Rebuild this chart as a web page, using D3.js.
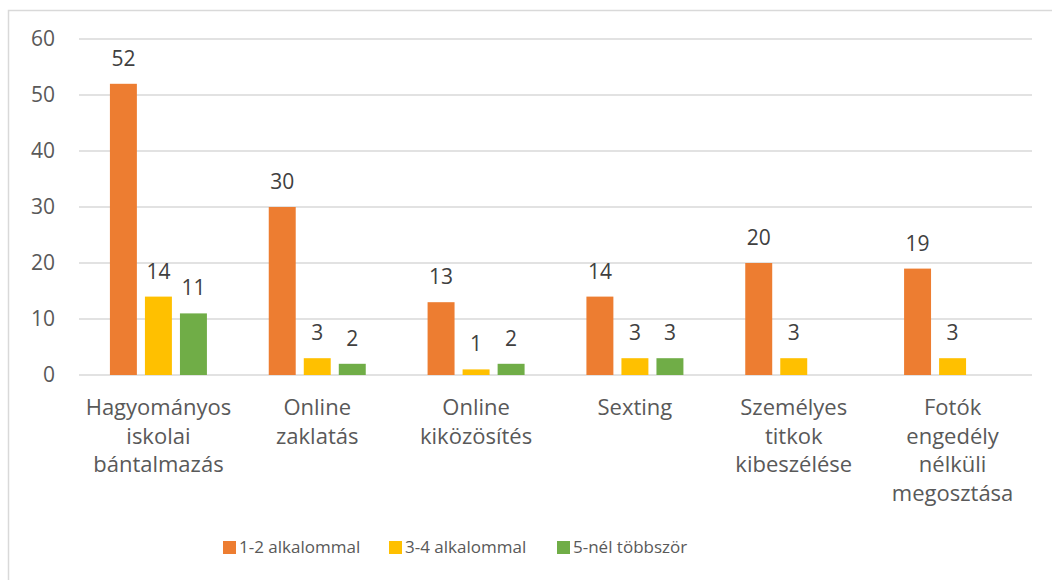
<!DOCTYPE html>
<html>
<head>
<meta charset="utf-8">
<script src="https://cdn.jsdelivr.net/npm/d3@7"></script>
<style>
  body { margin: 0; background: #fff; }
  svg { overflow: visible; display: block; }
  text { font-family: "Open Sans", "Noto Sans", sans-serif; }
</style>
</head>
<body>
<div id="chart"></div>
<script>
const categories = [
  ["Hagyományos", "iskolai", "bántalmazás"],
  ["Online", "zaklatás"],
  ["Online", "kiközösítés"],
  ["Sexting"],
  ["Személyes", "titkok", "kibeszélése"],
  ["Fotók", "engedély", "nélküli", "megosztása"]
];
const seriesNames = ["1-2 alkalommal", "3-4 alkalommal", "5-nél többször"];
const once12 = [52, 30, 13, 14, 20, 19];
const times34 = [14, 3, 1, 3, 3, 3];
const over5 = [11, 2, 2, 3, null, null];
const yTicks = [0, 10, 20, 30, 40, 50, 60];
const colors = ["#ed7d31", "#ffc000", "#70ad47"];

const width = 1052, height = 580;
const margin = { top: 39, left: 79 };
const innerWidth = 953;
const innerHeight = 375 - margin.top;

const seriesValues = [once12, times34, over5];
const data = categories.map((c, i) => ({
  key: i,
  lines: c,
  values: seriesValues.map((s, j) => ({ series: j, value: s[i] }))
}));

const svg = d3.select("#chart").append("svg")
  .attr("width", width)
  .attr("height", height);

// chart border (only left and top edges are in view)
svg.append("path")
  .attr("d", `M8.5,${height}V10.5H${width}`)
  .attr("fill", "none").attr("stroke", "#d9d9d9").attr("stroke-width", 1.5);

const g = svg.append("g").attr("transform", `translate(${margin.left},${margin.top})`);

const x0 = d3.scaleBand().domain(d3.range(categories.length)).range([0, innerWidth]);
const x1 = d3.scaleBand().domain([0, 1, 2])
  .range([x0.bandwidth() / 2 - 48.5, x0.bandwidth() / 2 + 48.5]).paddingInner(0.23);
const y = d3.scaleLinear().domain([0, 60]).range([innerHeight, 0]);

// gridlines
g.append("g")
  .selectAll("line")
  .data(yTicks)
  .join("line")
  .attr("x1", 0).attr("x2", innerWidth)
  .attr("y1", d => y(d)).attr("y2", d => y(d))
  .attr("stroke", "#d9d9d9").attr("stroke-width", 1.3);

// y tick labels
g.append("g")
  .selectAll("text")
  .data(yTicks)
  .join("text")
  .attr("x", -24).attr("y", d => y(d))
  .attr("dy", "0.35em")
  .attr("text-anchor", "end")
  .attr("fill", "#595959")
  .attr("font-size", 21)
  .text(d => d);

const groups = g.append("g").selectAll("g")
  .data(data)
  .join("g")
  .attr("transform", d => `translate(${x0(d.key)},0)`);

groups.selectAll("rect")
  .data(d => d.values.filter(v => v.value != null))
  .join("rect")
  .attr("x", d => x1(d.series))
  .attr("y", d => y(d.value))
  .attr("width", x1.bandwidth())
  .attr("height", d => innerHeight - y(d.value))
  .attr("fill", d => colors[d.series]);

groups.selectAll("text.val")
  .data(d => d.values.filter(v => v.value != null))
  .join("text")
  .attr("class", "val")
  .attr("x", d => x1(d.series) + x1.bandwidth() / 2)
  .attr("y", d => y(d.value) - 18)
  .attr("text-anchor", "middle")
  .attr("fill", "#404040")
  .attr("font-size", 21)
  .text(d => d.value);

// category labels
groups.append("text")
  .attr("text-anchor", "middle")
  .attr("fill", "#595959")
  .attr("font-size", 22)
  .selectAll("tspan")
  .data(d => d.lines)
  .join("tspan")
  .attr("x", x0.bandwidth() / 2)
  .attr("y", (d, i) => innerHeight + 40 + i * 28.5)
  .text(d => d);

// legend
const legendX = [223, 389, 557];
const legend = svg.append("g").selectAll("g")
  .data(seriesNames)
  .join("g")
  .attr("transform", (d, i) => `translate(${legendX[i]},541)`);
legend.append("rect")
  .attr("width", 13).attr("height", 13)
  .attr("fill", (d, i) => colors[i]);
legend.append("text")
  .attr("x", 16).attr("y", 6.5)
  .attr("dy", "0.35em")
  .attr("fill", "#595959")
  .attr("font-size", 17)
  .text(d => d);
</script>
</body>
</html>
